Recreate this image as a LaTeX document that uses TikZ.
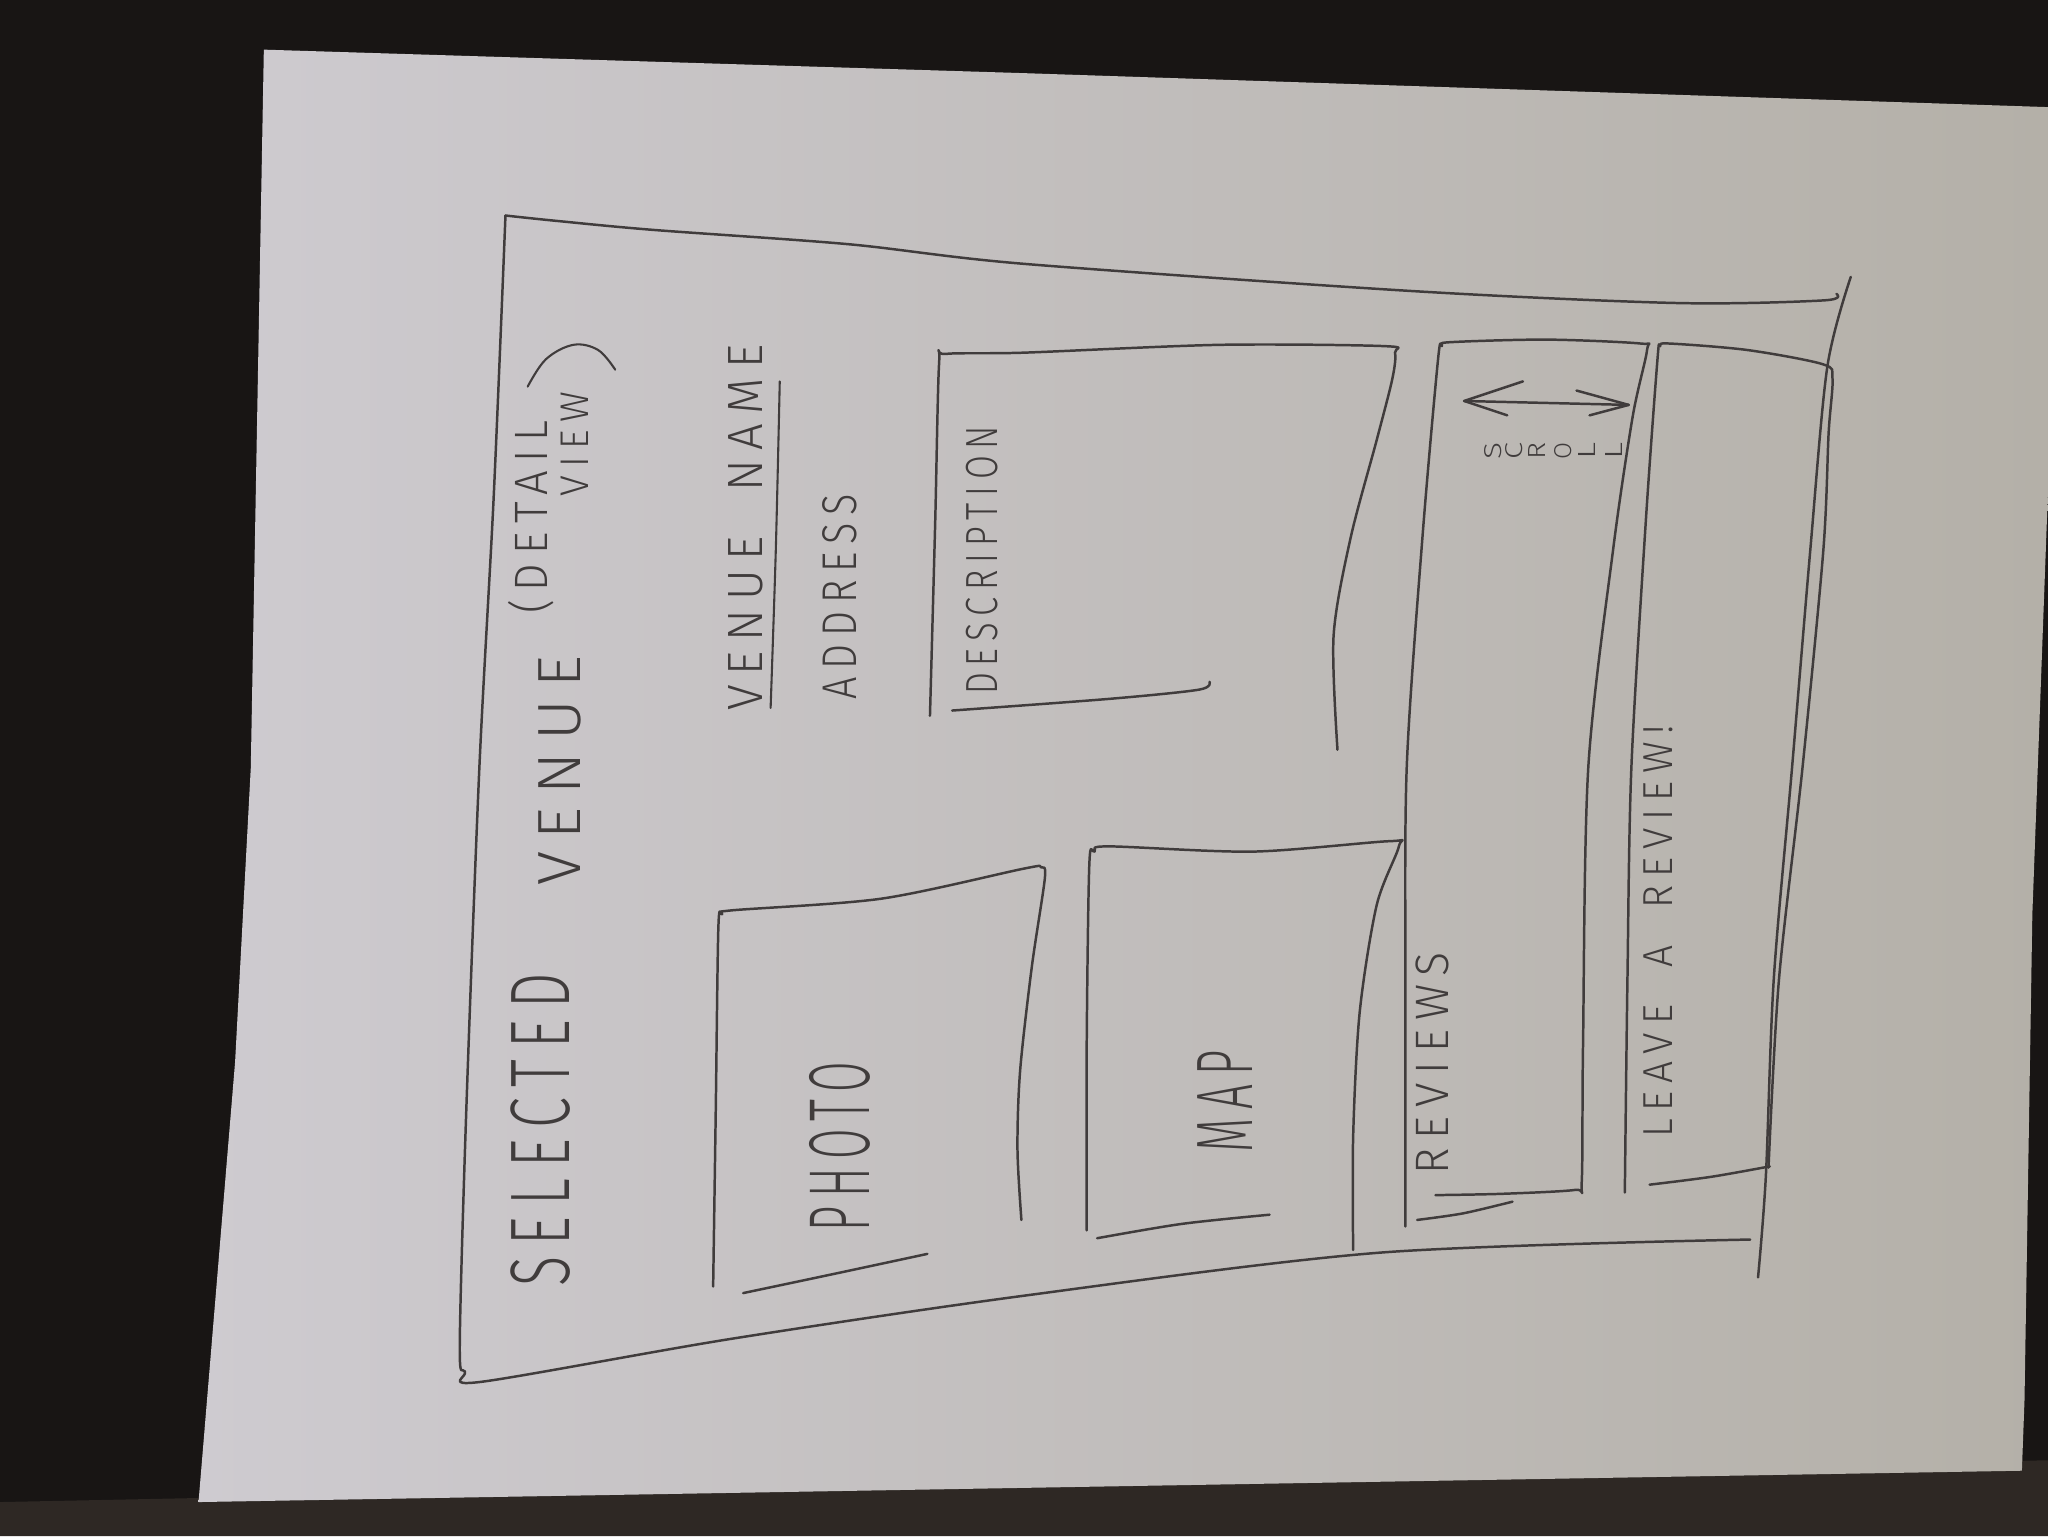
\documentclass[tikz,border=0pt]{standalone}
\usepackage{fontspec}
\usepackage{graphicx}
\newfontfamily\hand{Fira Sans Light}[LetterSpace=20]
\definecolor{ink}{RGB}{64,60,60}
\definecolor{desk}{RGB}{24,21,20}
\definecolor{deskfloor}{RGB}{46,40,36}
\definecolor{paperL}{RGB}{206,203,208}
\definecolor{paperR}{RGB}{180,176,168}
% handwritten label squeezed into a given length and letter height
\newcommand{\hw}[3]{\resizebox{#1pt}{#2pt}{\hand #3}}
\tikzset{
  pen/.style={draw=ink, line width=1.9pt, line cap=round, line join=round},
  penfine/.style={pen, line width=1.6pt},
  label/.style={rotate=90, inner sep=0pt, text=ink},
}
\begin{document}
\begin{tikzpicture}[x=1pt, y=-1pt]
\useasboundingbox (0,0) rectangle (1568,1176);
% desk
\fill[desk] (0,0) rectangle (1568,1176);
\fill[deskfloor] (0,1150) -- (1568,1118) -- (1568,1176) -- (0,1176) -- cycle;
% sheet of paper
\shade[left color=paperL, right color=paperR]
  (202,38) -- (784,56) -- (1568,82) -- (1568,375) -- (1556,700)
  -- (1550,1072) -- (1548,1126) -- (152,1150) -- (180,813) -- (192,588) -- cycle;

% outer frame
\draw[pen] plot[smooth, tension=0.5] coordinates {(387,165) (425,169) (500,176) (650,187) (784,202) (1084,223) (1284,232) (1396,230) (1406,225)};
\draw[pen] plot[smooth, tension=0.5] coordinates {(387,165) (378,380) (367,588) (357,850) (352,1030) (356,1050) (368,1058) (560,1025) (784,992) (1057,959) (1340,949)};
\draw[pen] plot[smooth, tension=0.5] coordinates {(1417,212) (1399,281) (1386,421) (1372,588) (1358,750) (1352,900) (1346,978)};

% photo panel
\draw[pen] plot[smooth, tension=0.5] coordinates {(546,985) (548,850) (550,710) (553,700) (560,697) (675,688) (784,665) (797,664) (800,672) (790,740) (781,820) (779,880) (782,934)};
\draw[pen] plot[smooth, tension=0.5] coordinates {(569,990) (640,975) (710,960)};

% map panel
\draw[pen] plot[smooth, tension=0.5] coordinates {(832,942) (832,800) (834,662) (838,652) (849,648) (959,652) (1064,644) (1071,648) (1054,693) (1041,775) (1036,870) (1036,957)};
\draw[pen] plot[smooth, tension=0.5] coordinates {(840,948) (905,937) (972,930)};

% description panel
\draw[pen] plot[smooth, tension=0.5] coordinates {(712,548) (716,400) (719,278) (724,271) (784,270) (934,264) (1060,265) (1068,270) (1066,290) (1054,337) (1034,412) (1021,487) (1024,574)};
\draw[pen] plot[smooth, tension=0.5] coordinates {(729,544) (850,535) (918,528) (926,522)};

% reviews panel
\draw[pen] plot[smooth, tension=0.5] coordinates {(1076,939) (1076,760) (1077,588) (1089,412) (1101,275) (1104,265) (1110,262) (1184,260) (1256,263) (1261,268) (1250,319) (1235,421) (1216,588) (1212,800) (1211,905) (1206,911) (1150,914) (1099,915)};
\draw[pen] plot[smooth, tension=0.5] coordinates {(1085,934) (1120,929) (1158,920)};

% leave-a-review panel
\draw[pen] plot[smooth, tension=0.5] coordinates {(1244,913) (1246,750) (1249,588) (1260,400) (1269,275) (1271,265) (1278,263) (1338,268) (1396,279) (1403,290) (1400,332) (1396,421) (1380,588) (1362,750) (1354,894)};
\draw[pen] plot[smooth, tension=0.5] coordinates {(1263,907) (1310,901) (1355,893)};

% scroll arrow
\draw[pen] (1166,292) -- (1121,307) -- (1154,318);
\draw[pen] (1121,307) -- (1247,310);
\draw[pen] (1207,299) -- (1247,310) -- (1217,318);

% underline of the venue name and closing bracket of the subtitle
\draw[penfine] plot[smooth, tension=0.5] coordinates {(597,292) (594,420) (590,542)};
\draw[penfine] plot[smooth, tension=0.6] coordinates {(404,296) (418,275) (439,264) (458,268) (471,283)};

% labels
\node[label] (selected) at (414,865) {\hw{240}{45}{SELECTED}};
\node[label] (venue)    at (429,590) {\hw{176}{32}{VENUE}};
\node[label] (detail)   at (407,396) {\hw{148}{30}{(DETAIL}};
\node[label] (view)     at (440,340) {\hw{80}{21}{VIEW}};
\node[label] (vname)    at (571,404) {\hw{280}{26}{VENUE\ \ NAME}};
\node[label] (address)  at (643,457) {\hw{157}{26}{ADDRESS}};
\node[label] (descr)    at (752,429) {\hw{206}{24}{DESCRIPTION}};
\node[label] (photo)    at (643,878) {\hw{130}{46}{PHOTO}};
\node[label] (map)      at (938,843) {\hw{78}{42}{MAP}};
\node[label] (reviews)  at (1097,814) {\hw{170}{25}{REVIEWS}};
\node[label] (leave)    at (1270,713) {\hw{316}{22}{LEAVE\ \ A\ \ REVIEW!}};
% vertically stacked SCROLL
\node[label] (sc1) at (1143,345) {\hw{13}{13}{S}};
\node[label] (sc2) at (1159,345) {\hw{13}{13}{C}};
\node[label] (sc3) at (1177,345) {\hw{13}{13}{R}};
\node[label] (sc4) at (1197,345) {\hw{13}{13}{O}};
\node[label] (sc5) at (1215,345) {\hw{13}{13}{L}};
\node[label] (sc6) at (1236,345) {\hw{13}{13}{L}};
\end{tikzpicture}
\end{document}
